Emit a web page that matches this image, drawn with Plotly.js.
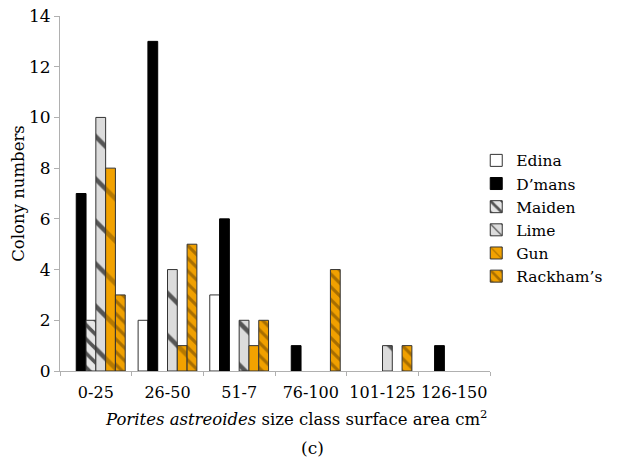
<!DOCTYPE html>
<html>
<head>
<meta charset="utf-8">
<script src="https://cdn.plot.ly/plotly-3.0.1.min.js"></script>
<style>html,body{margin:0;padding:0;background:#fff;}#chart{width:623px;height:465px;}</style>
</head>
<body>
<div id="chart"></div>
<script>
const categories = ["0-25", "26-50", "51-7", "76-100", "101-125", "126-150"];
const edina    = [0, 2, 3, 0, 0, 0];
const dmans    = [7, 13, 6, 1, 0, 1];
const maiden   = [2, 0, 0, 0, 0, 0];
const lime     = [10, 4, 2, 0, 1, 0];
const gun      = [8, 1, 1, 0, 0, 0];
const rackhams = [3, 5, 2, 4, 1, 0];
const seriesNames = ["Edina", "D\u2019mans", "Maiden", "Lime", "Gun", "Rackham\u2019s"];

const font = "DejaVu Serif";

const styles = [
  {color: "#ffffff", lc: "#333"},
  {color: "#000000", lc: "#000"},
  {color: "#d9d9d9", lc: "#333", pattern: {shape: "\\", bgcolor: "#e6e6e6", fgcolor: "#555555", size: 10, solidity: 0.35}},
  {color: "#d0d0d0", lc: "#333", pattern: {shape: "\\", bgcolor: "#dcdcdc", fgcolor: "#555555", size: 30, solidity: 0.15}},
  {color: "#f0a000", lc: "#333", pattern: {shape: "\\", bgcolor: "#f2a200", fgcolor: "#b57800", size: 30, solidity: 0.15}},
  {color: "#f0a000", lc: "#333", pattern: {shape: "\\", bgcolor: "#f0a000", fgcolor: "#a86e00", size: 9, solidity: 0.35}}
];

const values = [edina, dmans, maiden, lime, gun, rackhams];
const traces = values.map((v, i) => {
  const s = styles[i];
  const marker = {color: s.color, line: {color: s.lc, width: 1}};
  if (s.pattern) marker.pattern = s.pattern;
  // zero counts draw no bar, as in the reference
  return {type: "bar", name: seriesNames[i], x: categories, y: v.map(d => d === 0 ? null : d), marker: marker};
});

const layout = {
  width: 623,
  height: 465,
  margin: {l: 60, r: 133, t: 16, b: 94},
  paper_bgcolor: "#fff",
  plot_bgcolor: "#fff",
  barmode: "group",
  bargap: 0.18,
  bargroupgap: 0,
  font: {family: font, size: 16, color: "#000"},
  showlegend: true,
  legend: {x: 0.968, xanchor: "left", y: 0.64, yanchor: "top", font: {family: font, size: 15.5, color: "#000"}, bgcolor: "rgba(0,0,0,0)", tracegroupgap: 0},
  xaxis: {
    type: "category",
    showline: true, linecolor: "#b0b0b0", linewidth: 1,
    ticks: "outside", tickson: "boundaries", ticklen: 4, tickcolor: "#b0b0b0",
    showgrid: false, zeroline: false, tickangle: 0, ticklabelstandoff: 7,
    tickfont: {family: font, size: 16, color: "#000"}
  },
  yaxis: {
    range: [0, 14], dtick: 2,
    showline: true, linecolor: "#b0b0b0", linewidth: 1,
    ticks: "outside", ticklen: 5, tickcolor: "#b0b0b0",
    showgrid: false, zeroline: false,
    tickfont: {family: font, size: 17, color: "#000"},
    title: {text: "Colony numbers", font: {family: font, size: 16.5, color: "#000"}, standoff: 0}
  },
  annotations: [
    {xref: "paper", yref: "paper", x: 0.549, y: -0.132, xanchor: "center", yanchor: "middle", showarrow: false,
     text: "<i>Porites astreoides</i> size class surface area cm<sup>2</sup>", font: {family: font, size: 16.5, color: "#000"}},
    {xref: "paper", yref: "paper", x: 0.588, y: -0.217, xanchor: "center", yanchor: "middle", showarrow: false,
     text: "(c)", font: {family: font, size: 17, color: "#000"}}
  ]
};

Plotly.newPlot("chart", traces, layout, {displayModeBar: false, staticPlot: true});
</script>
</body>
</html>
